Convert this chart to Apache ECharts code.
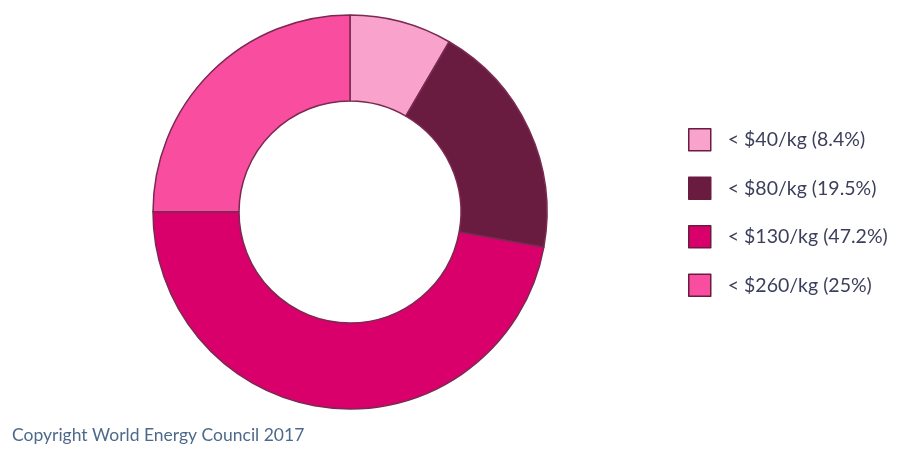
<!DOCTYPE html>
<html>
<head>
<meta charset="utf-8">
<script src="https://cdn.jsdelivr.net/npm/echarts@6/dist/echarts.min.js"></script>
<style>
	html, body { margin: 0; padding: 0; background: #fff; }
	#main { width: 918px; height: 461px; }
</style>
</head>
<body>
<div id="main"></div>
<script>
// 分类与数值
var categories = ['< $40/kg', '< $80/kg', '< $130/kg', '< $260/kg'];
var shares = [8.4, 19.5, 47.2, 25];
var shareLabels = ['8.4%', '19.5%', '47.2%', '25%'];
var colors = ['#f9a2cb', '#6a1c40', '#d9006b', '#f94d9f'];

var chart = echarts.init(document.getElementById('main'));

var pieData = [];
for (var i = 0; i < categories.length; i++) {
	pieData.push({ name: categories[i], value: shares[i] });
}

var option = {
	animation: false,
	color: colors,
	graphic: [{
		type: 'text',
		left: 12,
		top: 426,
		style: {
			text: 'Copyright World Energy Council 2017',
			fill: '#4d6a8c',
			font: '17.5px Lato'
		}
	}],
	legend: {
		orient: 'vertical',
		left: 683,
		top: 123,
		icon: 'rect',
		itemWidth: 22,
		itemHeight: 22,
		itemGap: 25,
		itemStyle: { borderColor: '#6a1c40', borderWidth: 1.5 },
		textStyle: { fontFamily: 'Lato', fontSize: 19.5, lineHeight: 22, color: '#3b3f5a', padding: [0, 0, 0, 12] },
		formatter: function (name) {
			var idx = categories.indexOf(name);
			return name + ' (' + shareLabels[idx] + ')';
		},
		data: categories
	},
	series: [{
		type: 'pie',
		center: [350, 212],
		radius: [111, 197],
		startAngle: 90,
		clockwise: true,
		silent: true,
		label: { show: false },
		labelLine: { show: false },
		itemStyle: { borderColor: '#7a2a52', borderWidth: 1.5 },
		data: pieData
	}]
};

chart.setOption(option);
</script>
</body>
</html>
